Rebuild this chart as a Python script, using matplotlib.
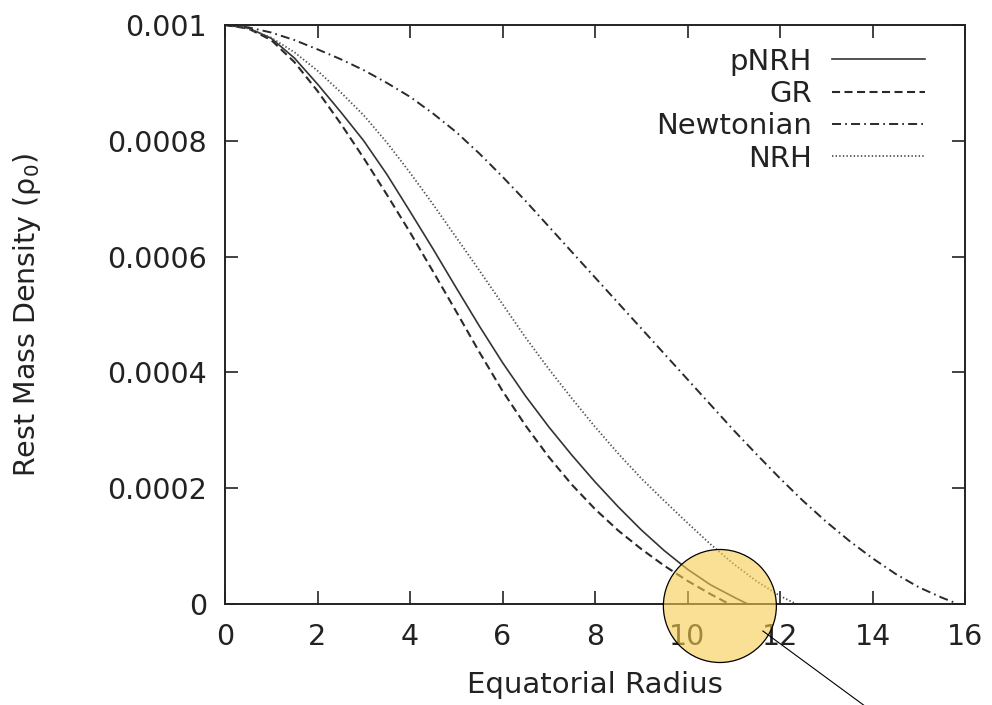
import matplotlib
matplotlib.use("Agg")
import matplotlib.pyplot as plt
from matplotlib import transforms
from matplotlib.patches import Circle
from matplotlib.lines import Line2D

# Rest-mass density profiles along the equator (density in units of 1e-4)
DENSITY_UNIT = 1e-4

gr_radius = [0, 0.5, 1.0, 1.5, 2.0, 2.5, 3.0, 3.5, 4.0, 4.5, 5.0, 5.5, 6.0,
             6.5, 7.0, 7.5, 8.0, 8.5, 9.0, 9.5, 10.0, 10.5, 10.9]
gr_density = [10.0, 9.94, 9.74, 9.36, 8.86, 8.30, 7.70, 7.07, 6.42, 5.74,
              5.05, 4.35, 3.68, 3.08, 2.54, 2.06, 1.64, 1.27, 0.95, 0.66,
              0.40, 0.17, 0.0]

pnrh_radius = [0, 0.5, 1.0, 1.5, 2.0, 2.5, 3.0, 3.5, 4.0, 4.5, 5.0, 5.5, 6.0,
               6.5, 7.0, 7.5, 8.0, 8.5, 9.0, 9.5, 10.0, 10.5, 11.0, 11.3]
pnrh_density = [10.0, 9.95, 9.77, 9.43, 8.98, 8.50, 8.00, 7.42, 6.78, 6.13,
                5.46, 4.80, 4.17, 3.59, 3.06, 2.57, 2.11, 1.68, 1.28, 0.92,
                0.60, 0.33, 0.12, 0.0]

newton_radius = [0, 0.5, 1.0, 1.5, 2.0, 2.5, 3.0, 3.5, 4.0, 4.5, 5.0, 5.5,
                 6.0, 6.5, 7.0, 7.5, 8.0, 8.5, 9.0, 9.5, 10.0, 10.5, 11.0,
                 11.5, 12.0, 12.5, 13.0, 13.5, 14.0, 14.5, 15.0, 15.5, 15.85]
newton_density = [10.0, 9.96, 9.87, 9.74, 9.58, 9.41, 9.22, 9.00, 8.76, 8.47,
                  8.15, 7.78, 7.38, 6.96, 6.52, 6.08, 5.64, 5.20, 4.76, 4.32,
                  3.88, 3.44, 3.00, 2.58, 2.17, 1.78, 1.42, 1.09, 0.79, 0.52,
                  0.29, 0.11, 0.0]

nrh_radius = [0, 0.5, 1.0, 1.5, 2.0, 2.5, 3.0, 3.5, 4.0, 4.5, 5.0, 5.5, 6.0,
              6.5, 7.0, 7.5, 8.0, 8.5, 9.0, 9.5, 10.0, 10.5, 11.0, 11.5, 12.0,
              12.35]
nrh_density = [10.0, 9.94, 9.78, 9.53, 9.21, 8.84, 8.44, 7.97, 7.45, 6.90,
               6.33, 5.76, 5.18, 4.60, 4.06, 3.55, 3.06, 2.60, 2.17, 1.78,
               1.40, 1.03, 0.69, 0.39, 0.14, 0.0]

x_ticks = [0, 2, 4, 6, 8, 10, 12, 14, 16]
y_ticks = [0, 0.0002, 0.0004, 0.0006, 0.0008, 0.001]
y_tick_labels = ["0", "0.0002", "0.0004", "0.0006", "0.0008", "0.001"]

plt.rcParams["font.family"] = ["DejaVu Sans"]
plt.rcParams["mathtext.default"] = "regular"
plt.rcParams["lines.scale_dashes"] = False

fig = plt.figure(figsize=(9.92, 7.05), dpi=100)
ax = fig.add_axes([225 / 992, 101 / 705, 740 / 992, 579 / 705])

def scaled(vals):
    return [v * DENSITY_UNIT for v in vals]

ax.plot(pnrh_radius, scaled(pnrh_density), color="#333333", lw=1.2,
        linestyle="-", label="pNRH")
ax.plot(gr_radius, scaled(gr_density), color="#2a2a2a", lw=1.5,
        linestyle=(0, (5.8, 3.2)), label="GR")
ax.plot(newton_radius, scaled(newton_density), color="#2a2a2a", lw=1.4,
        linestyle=(0, (6.5, 3.0, 1.2, 3.0)), label="Newtonian")
ax.plot(nrh_radius, scaled(nrh_density), color="#505050", lw=1.3,
        linestyle=(0, (1.0, 1.6)), label="NRH")

ax.set_xlim(0, 16)
ax.set_ylim(0, 0.001)
ax.set_xticks(x_ticks)
ax.set_xticklabels([str(t) for t in x_ticks])
ax.set_yticks(y_ticks)
ax.set_yticklabels(y_tick_labels)

ax.tick_params(direction="in", length=9.5, width=1.2, top=True, right=True,
               labelsize=20.5, colors="#222222", pad=13)
ax.tick_params(axis="x", pad=14)
for sp in ax.spines.values():
    sp.set_linewidth(1.4)
    sp.set_color("#222222")

ax.set_xlabel("Equatorial Radius", fontsize=21, color="#222222", labelpad=14)
ax.set_ylabel(r"Rest Mass Density ($\rho_0$)", fontsize=20.5, color="#222222")
ax.yaxis.set_label_coords(-0.246, 0.5)

leg = ax.legend(loc="upper right", bbox_to_anchor=(0.946, 0.961),
                frameon=False, markerfirst=False, fontsize=21,
                handlelength=3.2, handletextpad=0.68, labelspacing=0.15,
                borderpad=0, borderaxespad=0)
for t in leg.get_texts():
    t.set_color("#222222")

# Highlight around the surface of the star
anchor = fig.dpi_scale_trans + transforms.ScaledTranslation(10.7, 0.0, ax.transData)
ring = Circle((0.0, -0.02), 0.565, transform=anchor,
              facecolor=(0.96, 0.80, 0.31, 0.6), edgecolor="black", lw=0.9,
              zorder=10, clip_on=False)
fig.add_artist(ring)
pointer = Line2D([0.43, 1.45], [-0.27, -1.02], transform=anchor, color="black",
                 lw=0.8, zorder=11, clip_on=False)
fig.add_artist(pointer)

fig.savefig("out.png", dpi=100)
